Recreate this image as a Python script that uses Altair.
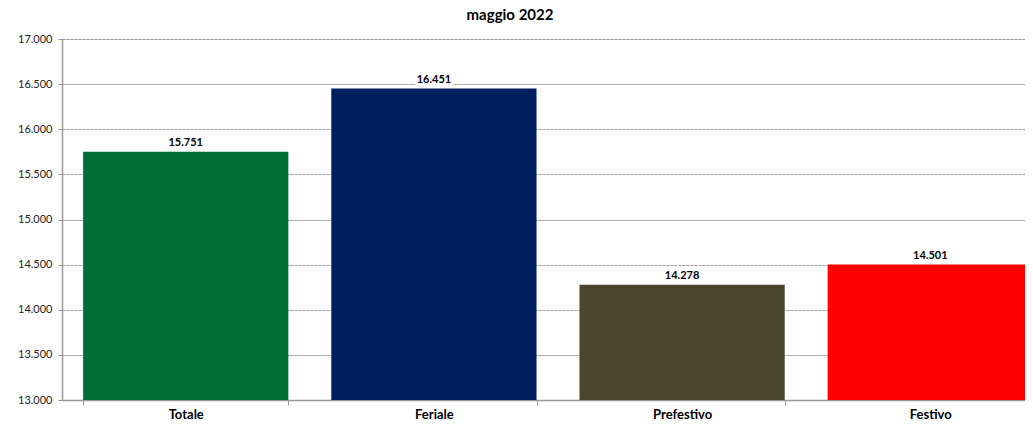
import altair as alt
import pandas as pd

categories = ["Totale", "Feriale", "Prefestivo", "Festivo"]
values = [15751, 16451, 14278, 14501]
labels = ["15.751", "16.451", "14.278", "14.501"]
colors = ["#006F36", "#001F5F", "#4A452D", "#FF0000"]
y_ticks = [13000, 13500, 14000, 14500, 15000, 15500, 16000, 16500, 17000]

df = pd.DataFrame({"cat": categories, "val": values, "lab": labels, "col": colors})

font = "Lato"

x = alt.X(
    "cat:N",
    sort=categories,
    title=None,
    scale=alt.Scale(paddingInner=0.173, paddingOuter=0.085),
    axis=alt.Axis(
        tickBand="extent",
        labelAngle=0,
        labelFont=font,
        labelFontSize=13,
        labelFontWeight="bold",
        labelColor="#000000",
        labelPadding=3,
        tickSize=5,
        tickColor="#999999",
        domainColor="#999999",
        domainWidth=1.5,
        grid=False,
    ),
)

y = alt.Y(
    "val:Q",
    title=None,
    scale=alt.Scale(domain=[13000, 17000], nice=False, zero=False),
    axis=alt.Axis(
        values=y_ticks,
        labelExpr="replace(format(datum.value, ','), ',', '.')",
        labelFont=font,
        labelFontSize=11,
        labelColor="#222222",
        labelPadding=6,
        tickSize=4,
        tickColor="#999999",
        domainColor="#999999",
        domainWidth=1.5,
        gridColor="#999999",
        gridDash=[3, 1],
        gridWidth=1,
    ),
)

bars = alt.Chart(df).mark_bar(clip=False).encode(
    x=x,
    y=y,
    y2=alt.datum(13000),
    color=alt.Color("col:N", scale=None, legend=None),
)

halo = alt.Chart(df).mark_text(
    baseline="bottom", dy=-4, font=font, fontSize=11, fontWeight="bold",
    stroke="white", strokeWidth=5, color="white"
).encode(x=alt.X("cat:N", sort=categories), y="val:Q", text="lab:N")

text = alt.Chart(df).mark_text(
    baseline="bottom", dy=-4, font=font, fontSize=11, fontWeight="bold", color="#000000"
).encode(x=alt.X("cat:N", sort=categories), y="val:Q", text="lab:N")

chart = (
    alt.layer(bars, halo, text)
    .properties(
        width=992,
        height=361,
        title=alt.TitleParams(
            "maggio 2022", font=font, fontSize=15, fontWeight="bold",
            color="#000000", anchor="middle", dx=-48, offset=10
        ),
        padding={"left": 54, "top": 31, "right": -29, "bottom": 21},
        autosize=alt.AutoSizeParams(type="none"),
    )
    .configure_view(stroke=None)
    .configure(background="white")
)

chart.save("out.html", embed_options={"renderer": "svg", "actions": False})
